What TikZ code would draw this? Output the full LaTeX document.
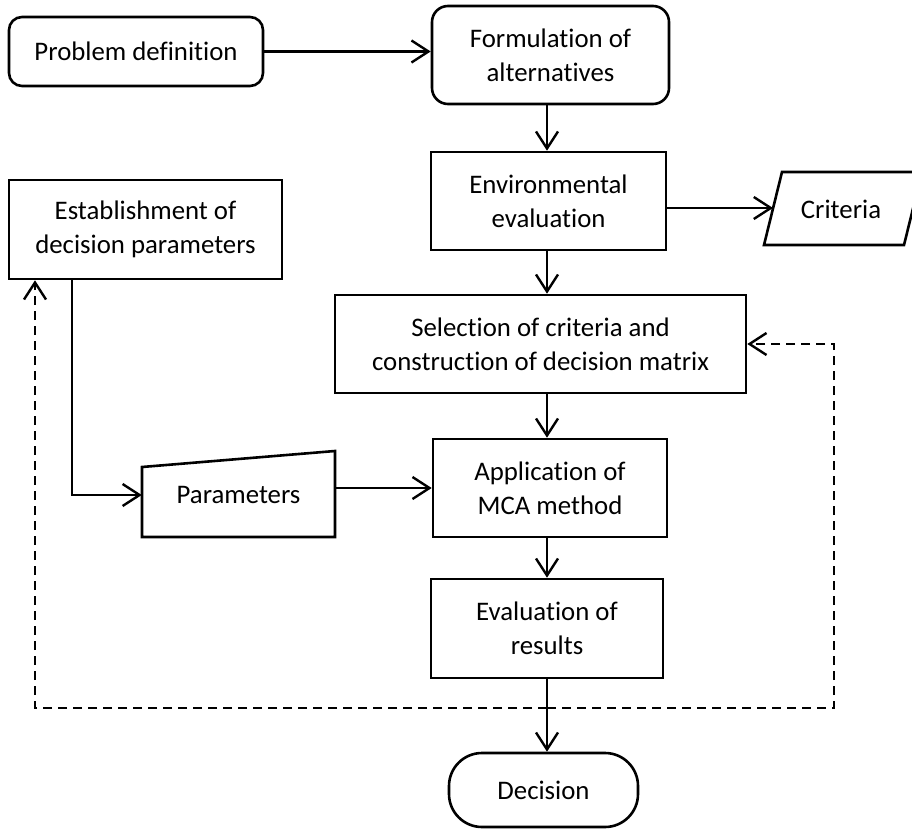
\documentclass[tikz,border=0pt]{standalone}
\usepackage{fontspec}
\setmainfont{Carlito}[Ligatures={NoCommon,NoContextual}]
\usetikzlibrary{arrows.meta}
\begin{document}
\begin{tikzpicture}[x=1pt,y=-1pt,
  every node/.style={font=\fontsize{26.8}{34}\selectfont, align=center},
  box/.style={draw, line width=2.6pt, inner sep=0pt},
  rbox/.style={box, rounded corners=13pt},
  outline/.style={line width=2.6pt, line join=miter},
  flow/.style={line width=2.6pt, -{Straight Barb[length=17pt,width=22pt,line width=2.4pt]}},
  fback/.style={flow, dash pattern=on 9pt off 6pt},
  lbl/.style={inner sep=0pt}]
\useasboundingbox (0,0) rectangle (912,829);

% process steps
\node[rbox, minimum width=254pt, minimum height=69pt] (prob) at (136,51.5) {Problem definition};
\node[rbox, rounded corners=16pt, minimum width=237pt, minimum height=98pt] (form) at (550.5,55) {Formulation of\\alternatives};
\node[box, minimum width=235pt, minimum height=98pt] (env) at (548.5,201) {Environmental\\evaluation};
\node[box, minimum width=273pt, minimum height=99pt] (est) at (145.5,229.5) {Establishment of\\decision parameters};
\node[box, minimum width=411pt, minimum height=98pt] (sel) at (540.5,344) {Selection of criteria and\\construction of decision matrix};
\node[box, minimum width=234pt, minimum height=98pt] (app) at (550,488) {Application of\\MCA method};
\node[box, minimum width=232pt, minimum height=99pt] (eval) at (547,628.5) {Evaluation of\\results};
\node[box, rounded corners=33pt, minimum width=189pt, minimum height=74pt] (dec) at (543.5,790) {Decision};

% manual input (trapezoid)
\draw[outline] (142,467) -- (335,451) -- (335,537) -- (142,537) -- cycle;
\node[lbl, minimum width=193pt] (param) at (238.5,495) {Parameters};

% data output (parallelogram)
\draw[outline] (764,245) -- (782,172) -- (922,172) -- (904,245) -- cycle;
\node[lbl] (crit) at (841,209) {Criteria};
\coordinate (critin) at (773,208);

% main column
\coordinate (col) at (547,0);
\draw[flow] (prob.east) -- (prob.east -| form.west);
\draw[flow] (form.south -| col) -- (env.north -| col);
\draw[flow] (env.east |- critin) -- (critin);
\draw[flow] (env.south -| col) -- (sel.north -| col);
\draw[flow] (sel.south -| col) -- (app.north -| col);
\draw[flow] (app.south -| col) -- (eval.north -| col);
\draw[flow] (eval.south -| col) -- (dec.north -| col);

% parameters branch
\draw[flow] ([xshift=-73.5pt]est.south) |- (param.west);
\draw[flow] (app.west -| param.east) -- (app.west);

% feedback loops
\coordinate (fb) at (547,708);
\coordinate (fbl) at (35,708);
\coordinate (fbr) at (834,708);
\draw[fback] (fb) -- (fbl) -- (fbl |- est.south);
\draw[fback] (fb) -- (fbr) |- (sel.east);
\end{tikzpicture}
\end{document}
